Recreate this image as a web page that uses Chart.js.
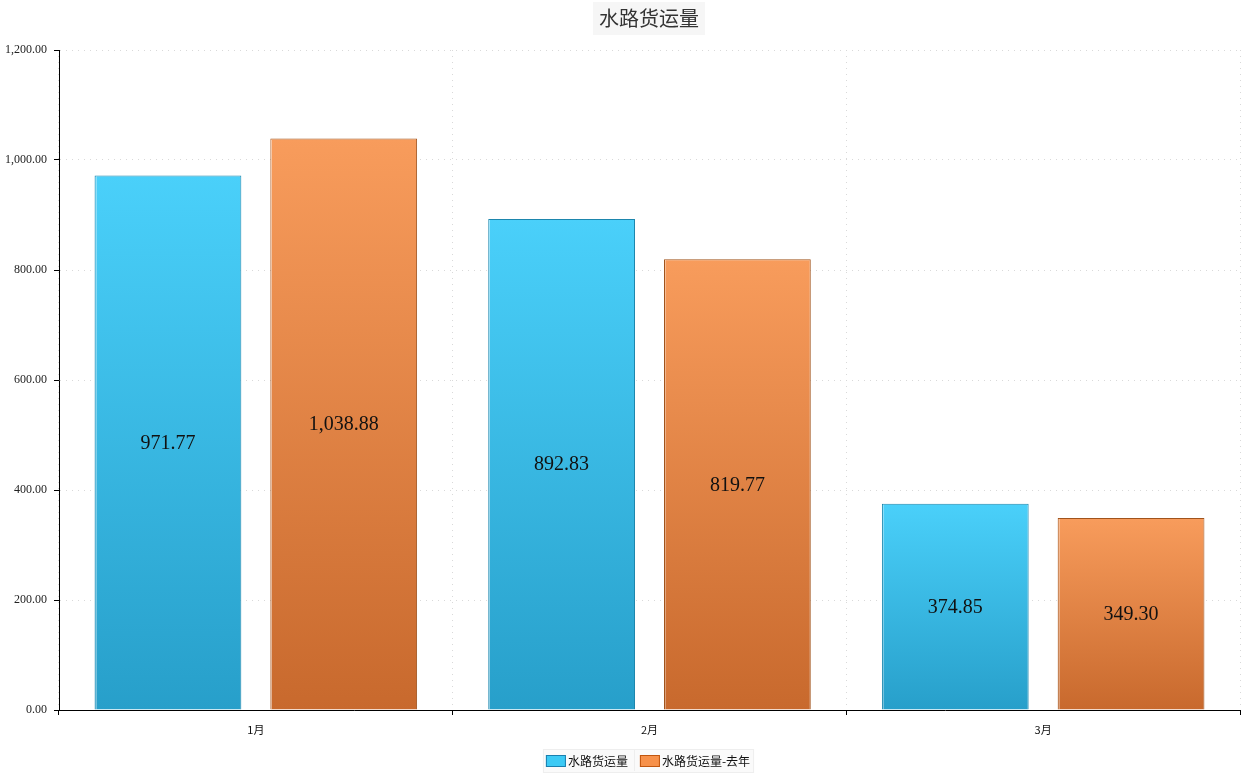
<!DOCTYPE html>
<html>
<head>
<meta charset="utf-8">
<script src="https://cdn.jsdelivr.net/npm/chart.js@4/dist/chart.umd.min.js"></script>
<style>
html,body{margin:0;padding:0;background:#fff;}
canvas{display:block;}
</style>
</head>
<body>
<canvas id="c" width="1243" height="774"></canvas>
<script>
const titleText = '水路货运量';
const categories = ['1月', '2月', '3月'];
const seriesNames = ['水路货运量', '水路货运量-去年'];
const thisYear = [971.77, 892.83, 374.85];
const lastYear = [1038.88, 819.77, 349.30];
const yTicks = [0, 200, 400, 600, 800, 1000, 1200];

const palette = [
  {top: '#4ad0fa', bottom: '#279fca', border: '#1d86ad', swatch: '#3ccaf5', swatchBorder: '#1a7fae'},
  {top: '#f89c5c', bottom: '#c8692d', border: '#a0531c', swatch: '#f7914a', swatchBorder: '#c0560f'}
];

function fmt(v) {
  return v.toLocaleString('en-US', {minimumFractionDigits: 2, maximumFractionDigits: 2});
}

function gradFor(i) {
  return function(ctx) {
    const chart = ctx.chart;
    const ys = chart.scales && chart.scales.y;
    if (!ys || ctx.raw === undefined || !chart.chartArea) return palette[i].top;
    const t = ys.getPixelForValue(ctx.raw);
    const b = ys.getPixelForValue(0);
    if (!isFinite(t) || !isFinite(b) || t === b) return palette[i].top;
    const g = chart.ctx.createLinearGradient(0, t, 0, b);
    g.addColorStop(0, palette[i].top);
    g.addColorStop(1, palette[i].bottom);
    return g;
  };
}

const overlay = {
  id: 'overlay',
  afterDatasetsDraw(chart) {
    const ctx = chart.ctx;
    ctx.save();
    // light left edge on bars
    chart.data.datasets.forEach((ds, di) => {
      const meta = chart.getDatasetMeta(di);
      meta.data.forEach((el) => {
        const left = Math.round(el.x - el.width / 2) + 1.5;
        ctx.strokeStyle = 'rgba(255,255,255,0.35)';
        ctx.lineWidth = 1;
        ctx.beginPath();
        ctx.moveTo(left, el.y + 1);
        ctx.lineTo(left, el.base);
        ctx.stroke();
      });
    });
    ctx.font = '20px "Liberation Serif", serif';
    ctx.fillStyle = '#111';
    ctx.textAlign = 'center';
    ctx.textBaseline = 'middle';
    chart.data.datasets.forEach((ds, di) => {
      const meta = chart.getDatasetMeta(di);
      meta.data.forEach((el, j) => {
        ctx.fillText(fmt(ds.data[j]), el.x, (el.y + el.base) / 2 + 1);
      });
    });
    ctx.restore();
  },
  afterDraw(chart) {
    const ctx = chart.ctx;
    ctx.save();
    // title
    const cx = 649;
    ctx.font = '20px "Noto Sans CJK SC", sans-serif';
    const tw = ctx.measureText(titleText).width;
    ctx.fillStyle = '#f6f6f6';
    ctx.fillRect(cx - tw / 2 - 6, 2, tw + 12, 33);
    ctx.fillStyle = '#333';
    ctx.textAlign = 'center';
    ctx.textBaseline = 'middle';
    ctx.fillText(titleText, cx, 18);
    // legend
    ctx.font = '12px "Noto Sans CJK SC", sans-serif';
    const w0 = ctx.measureText(seriesNames[0]).width;
    const w1 = ctx.measureText(seriesNames[1]).width;
    const sw = 20, gap = 2, sep = 12;
    const total = sw + gap + w0 + sep + sw + gap + w1;
    let x = 648 - total / 2;
    const ly = 761;
    ctx.fillStyle = '#fafafa';
    ctx.fillRect(x - 3, 749, total + 6, 23);
    ctx.strokeStyle = '#eeeeee';
    ctx.lineWidth = 1;
    ctx.strokeRect(x - 3 + 0.5, 749.5, total + 6, 23);
    ctx.textAlign = 'left';
    ctx.textBaseline = 'middle';
    [0, 1].forEach(i => {
      ctx.fillStyle = palette[i].swatch;
      ctx.fillRect(x, ly - 6, sw, 12);
      ctx.strokeStyle = palette[i].swatchBorder;
      ctx.strokeRect(x + 0.5, ly - 5.5, sw - 1, 11);
      ctx.fillStyle = '#111';
      ctx.fillText(seriesNames[i], x + sw + gap, ly);
      x += sw + gap + (i === 0 ? w0 : w1);
      if (i === 0) {
        ctx.strokeStyle = '#eeeeee';
        ctx.beginPath();
        ctx.moveTo(Math.round(x + sep / 2) + 0.5, 750);
        ctx.lineTo(Math.round(x + sep / 2) + 0.5, 771);
        ctx.stroke();
        x += sep;
      }
    });
    ctx.restore();
  }
};

new Chart(document.getElementById('c'), {
  type: 'bar',
  data: {
    labels: categories,
    datasets: [
      {label: seriesNames[0], data: thisYear, backgroundColor: gradFor(0), borderColor: palette[0].border, borderWidth: 1, borderSkipped: 'bottom'},
      {label: seriesNames[1], data: lastYear, backgroundColor: gradFor(1), borderColor: palette[1].border, borderWidth: 1, borderSkipped: 'bottom'}
    ]
  },
  options: {
    responsive: false,
    animation: false,
    devicePixelRatio: 1,
    layout: {padding: {top: 50, right: 3, left: 0, bottom: 0}},
    datasets: {bar: {barPercentage: 0.835, categoryPercentage: 0.893}},
    plugins: {legend: {display: false}, title: {display: false}, tooltip: {enabled: false}},
    scales: {
      x: {
        afterFit(s) { s.height = 64; },
        grid: {offset: true, color: '#d9d9d9', lineWidth: 1, drawTicks: true, tickLength: 5, tickColor: '#000', tickBorderDash: []},
        border: {display: true, color: '#000', width: 1, dash: [1, 5]},
        ticks: {padding: 8, color: '#111', font: {family: '"Noto Sans CJK SC", sans-serif', size: 11}}
      },
      y: {
        min: 0, max: 1200,
        afterFit(s) { s.width = 59; },
        afterBuildTicks(s) { s.ticks = yTicks.map(v => ({value: v})); },
        grid: {color: '#d9d9d9', lineWidth: 1, drawTicks: true, tickLength: 5, tickColor: '#000', tickBorderDash: []},
        border: {display: true, color: '#000', width: 1, dash: [1, 5]},
        ticks: {padding: 7, color: '#222', font: {family: '"Liberation Serif", serif', size: 12}, callback: v => fmt(v)}
      }
    }
  },
  plugins: [overlay]
});
</script>
</body>
</html>
